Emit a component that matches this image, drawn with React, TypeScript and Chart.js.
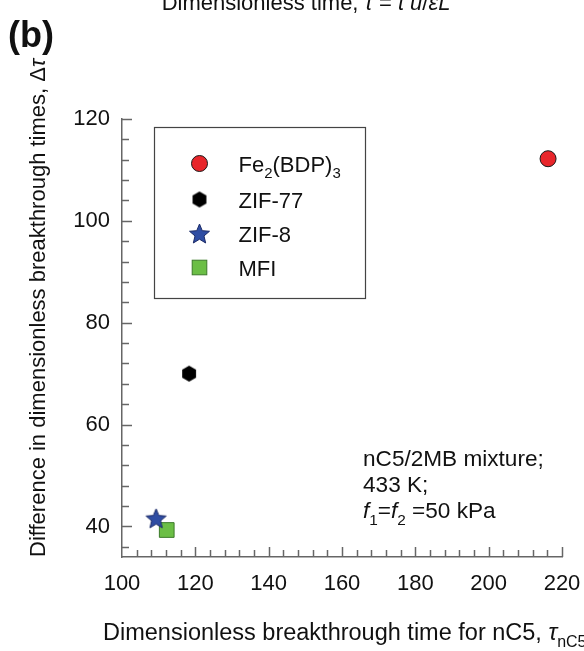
import React, { useEffect, useRef } from 'react';
import { Chart, registerables } from 'chart.js';

Chart.register(...registerables);

// ---- data ----
const materials = ['Fe2(BDP)3', 'ZIF-77', 'ZIF-8', 'MFI'];
const tauNC5 = [216.2, 118.3, 109.3, 112.2];
const deltaTau = [112.2, 70.0, 41.6, 39.3];
const xTickValues = [100, 120, 140, 160, 180, 200, 220];
const yTickValues = [40, 60, 80, 100, 120];
const xRange = [100, 220];
const yRange = [34, 120];
const minorStep = 4;

const FONT = '"Liberation Sans", Arial, Helvetica, sans-serif';

type Seg = { t: string; italic?: boolean; bold?: boolean; sub?: boolean };

function fontFor(seg: Seg, size: number) {
  const s = seg.sub ? size * 0.68 : size;
  return `${seg.italic ? 'italic ' : ''}${seg.bold ? 'bold ' : ''}${s}px ${FONT}`;
}

function richWidth(ctx: CanvasRenderingContext2D, segs: Seg[], size: number) {
  let w = 0;
  for (const s of segs) {
    ctx.font = fontFor(s, size);
    w += ctx.measureText(s.t).width;
  }
  return w;
}

function drawRich(
  ctx: CanvasRenderingContext2D,
  segs: Seg[],
  x: number,
  y: number,
  size: number,
  align: 'left' | 'center' = 'left',
  color = '#111'
) {
  const total = richWidth(ctx, segs, size);
  let cx = align === 'center' ? x - total / 2 : x;
  ctx.textAlign = 'left';
  ctx.textBaseline = 'alphabetic';
  ctx.fillStyle = color;
  for (const s of segs) {
    ctx.font = fontFor(s, size);
    const dy = s.sub ? size * 0.3 : 0;
    ctx.fillText(s.t, cx, y + dy);
    cx += ctx.measureText(s.t).width;
  }
}

function makeHexagon(r: number, fill: string) {
  const c = document.createElement('canvas');
  const s = Math.ceil(2 * r + 2);
  c.width = s;
  c.height = s;
  const g = c.getContext('2d')!;
  g.beginPath();
  for (let i = 0; i < 6; i++) {
    const a = (-90 + 60 * i) * (Math.PI / 180);
    const px = s / 2 + r * Math.cos(a);
    const py = s / 2 + r * Math.sin(a);
    if (i === 0) g.moveTo(px, py);
    else g.lineTo(px, py);
  }
  g.closePath();
  g.fillStyle = fill;
  g.fill();
  return c;
}

function makeStar(R: number, fill: string, stroke: string) {
  const c = document.createElement('canvas');
  const s = Math.ceil(2 * R + 4);
  c.width = s;
  c.height = s;
  const g = c.getContext('2d')!;
  const ri = R * 0.45;
  g.beginPath();
  for (let i = 0; i < 10; i++) {
    const rr = i % 2 === 0 ? R : ri;
    const a = (-90 + 36 * i) * (Math.PI / 180);
    const px = s / 2 + rr * Math.cos(a);
    const py = s / 2 + 1 + rr * Math.sin(a);
    if (i === 0) g.moveTo(px, py);
    else g.lineTo(px, py);
  }
  g.closePath();
  g.fillStyle = fill;
  g.fill();
  g.lineWidth = 1;
  g.strokeStyle = stroke;
  g.stroke();
  return c;
}

export default function App() {
  const ref = useRef<HTMLCanvasElement>(null);

  useEffect(() => {
    const canvas = ref.current!;
    const hex = makeHexagon(8, '#000000');
    const star = makeStar(10.5, '#2F4DA3', '#1B2A66');

    const styles = [
      { pointStyle: 'circle' as any, radius: 8, bg: '#E8262B', border: '#1a1a1a', bw: 1 },
      { pointStyle: hex as any, radius: 8, bg: '#000', border: '#000', bw: 0 },
      { pointStyle: star as any, radius: 10, bg: '#2F4DA3', border: '#1B2A66', bw: 0 },
      { pointStyle: 'rect' as any, radius: 10.4, bg: '#6BBE45', border: '#3C7A2A', bw: 1 },
    ];

    const datasets = materials.map((m, i) => ({
      label: m,
      data: [{ x: tauNC5[i], y: deltaTau[i] }],
      pointStyle: styles[i].pointStyle,
      pointRadius: styles[i].radius,
      pointHoverRadius: styles[i].radius,
      backgroundColor: styles[i].bg,
      borderColor: styles[i].border,
      borderWidth: styles[i].bw,
      showLine: false,
    }));

    const axisColor = '#666';

    const decor = {
      id: 'decor',
      beforeDraw(chart: any) {
        const ctx = chart.ctx;
        ctx.save();
        ctx.fillStyle = '#fff';
        ctx.fillRect(0, 0, chart.width, chart.height);
        ctx.restore();
      },
      beforeDatasetsDraw(chart: any) {
        const ctx = chart.ctx as CanvasRenderingContext2D;
        const xs = chart.scales.x;
        const ys = chart.scales.y;
        const ca = chart.chartArea;
        ctx.save();
        ctx.strokeStyle = axisColor;
        ctx.lineWidth = 1.5;
        for (let v = xRange[0] + minorStep; v <= xRange[1] + 1e-9; v += minorStep) {
          const major = xTickValues.some((t) => Math.abs(t - v) < 1e-6);
          const px = Math.round(xs.getPixelForValue(v)) + 0.5;
          ctx.beginPath();
          ctx.moveTo(px, ca.bottom);
          ctx.lineTo(px, ca.bottom - (major ? 10 : 7));
          ctx.stroke();
        }
        for (let v = 36; v <= yRange[1] + 1e-9; v += minorStep) {
          const major = yTickValues.some((t) => Math.abs(t - v) < 1e-6);
          const py = Math.round(ys.getPixelForValue(v)) + 0.5;
          ctx.beginPath();
          ctx.moveTo(ca.left, py);
          ctx.lineTo(ca.left + (major ? 10 : 7), py);
          ctx.stroke();
        }
        ctx.restore();
      },
      afterDatasetsDraw(chart: any) {
        const ctx = chart.ctx as CanvasRenderingContext2D;
        const ca = chart.chartArea;
        ctx.save();

        // legend box
        const bx = ca.left + 32.5;
        const by = ca.top + 8.5;
        const bw = 211;
        const bh = 171;
        ctx.strokeStyle = '#444';
        ctx.lineWidth = 1.2;
        ctx.strokeRect(bx, by, bw, bh);

        const mx = bx + 45;
        const tx = bx + 84;
        const rowsY = [by + 36, by + 72, by + 106, by + 140];
        ctx.beginPath();
        ctx.arc(mx, rowsY[0], 8, 0, Math.PI * 2);
        ctx.fillStyle = styles[0].bg;
        ctx.fill();
        ctx.lineWidth = 1;
        ctx.strokeStyle = styles[0].border;
        ctx.stroke();
        ctx.drawImage(hex, mx - hex.width / 2, rowsY[1] - hex.height / 2);
        ctx.drawImage(star, mx - star.width / 2, rowsY[2] - star.height / 2);
        const sq = 7.3;
        ctx.fillStyle = styles[3].bg;
        ctx.fillRect(mx - sq, rowsY[3] - sq, 2 * sq, 2 * sq);
        ctx.strokeStyle = styles[3].border;
        ctx.lineWidth = 1;
        ctx.strokeRect(mx - sq, rowsY[3] - sq, 2 * sq, 2 * sq);

        const fs = 22;
        const labelSegs: Seg[][] = [
          [{ t: 'Fe' }, { t: '2', sub: true }, { t: '(BDP)' }, { t: '3', sub: true }],
          [{ t: 'ZIF-77' }],
          [{ t: 'ZIF-8' }],
          [{ t: 'MFI' }],
        ];
        labelSegs.forEach((segs, i) => drawRich(ctx, segs, tx, rowsY[i] + 8, fs));

        // annotation
        const ax = ca.left + 241;
        const afs = 22.6;
        drawRich(ctx, [{ t: 'nC5/2MB mixture;' }], ax, ca.top + 347, afs);
        drawRich(ctx, [{ t: '433 K;' }], ax, ca.top + 373, afs);
        drawRich(
          ctx,
          [
            { t: 'f', italic: true },
            { t: '1', sub: true },
            { t: '=' },
            { t: 'f', italic: true },
            { t: '2', sub: true },
            { t: ' =50 kPa' },
          ],
          ax,
          ca.top + 399,
          afs
        );

        // x axis title
        drawRich(
          ctx,
          [
            { t: 'Dimensionless breakthrough time for nC5, ' },
            { t: 'τ', italic: true },
            { t: 'nC5', sub: true },
          ],
          103,
          640,
          23.5
        );

        // y axis title (rotated)
        ctx.save();
        ctx.translate(45, 557);
        ctx.rotate(-Math.PI / 2);
        drawRich(
          ctx,
          [
            { t: 'Difference in dimensionless breakthrough times, Δ' },
            { t: 'τ', italic: true },
          ],
          0,
          0,
          fs
        );
        ctx.restore();

        // top (clipped) title
        drawRich(
          ctx,
          [
            { t: 'Dimensionless time, ' },
            { t: 'τ', italic: true },
            { t: ' = ' },
            { t: 't', italic: true },
            { t: ' ' },
            { t: 'u', italic: true },
            { t: '/' },
            { t: 'εL', italic: true },
          ],
          306,
          10,
          fs,
          'center'
        );

        // panel label
        drawRich(ctx, [{ t: '(b)', bold: true }], 8, 47, 36);

        ctx.restore();
      },
    };

    const chart = new Chart(canvas, {
      type: 'scatter',
      data: { datasets },
      options: {
        responsive: false,
        animation: false,
        devicePixelRatio: 1,
        layout: { padding: { left: 0, top: 119, right: 22, bottom: 0 } },
        plugins: {
          legend: { display: false },
          tooltip: { enabled: false },
          title: { display: false },
        },
        scales: {
          x: {
            type: 'linear',
            min: xRange[0],
            max: xRange[1],
            grid: { display: false, drawTicks: false },
            border: { display: true, color: axisColor, width: 1.5 },
            ticks: {
              padding: 14,
              color: '#111',
              font: { family: FONT, size: 22 },
              maxRotation: 0,
            },
            afterBuildTicks: (scale: any) => {
              scale.ticks = xTickValues.map((v) => ({ value: v }));
            },
            afterFit: (scale: any) => {
              scale.height = 94;
              scale.paddingLeft = 0;
              scale.paddingRight = 0;
              scale.paddingTop = 0;
              scale.paddingBottom = 0;
            },
          },
          y: {
            type: 'linear',
            min: yRange[0],
            max: yRange[1],
            grid: { display: false, drawTicks: false },
            border: { display: true, color: axisColor, width: 1.5 },
            ticks: {
              padding: 12,
              color: '#111',
              font: { family: FONT, size: 22 },
            },
            afterBuildTicks: (scale: any) => {
              scale.ticks = yTickValues.map((v) => ({ value: v }));
            },
            afterFit: (scale: any) => {
              scale.width = 122;
              scale.paddingLeft = 0;
              scale.paddingRight = 0;
              scale.paddingTop = 0;
              scale.paddingBottom = 0;
            },
          },
        },
      },
      plugins: [decor],
    });

    return () => chart.destroy();
  }, []);

  return (
    <div style={{ position: 'absolute', left: 0, top: 0, width: 584, height: 651, background: '#fff' }}>
      <canvas ref={ref} width={584} height={651} style={{ display: 'block' }} />
    </div>
  );
}
